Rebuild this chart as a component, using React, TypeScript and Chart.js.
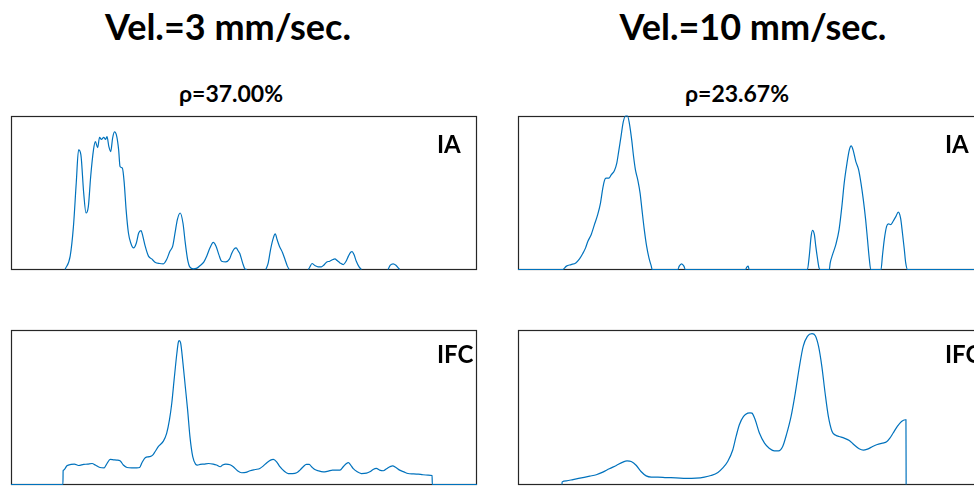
import React, { useEffect, useRef } from "react";
import { Chart, registerables } from "chart.js";

Chart.register(...registerables);

// ---------- Data (position 0–100 along the trace, intensity 0–100 % of panel) ----------
const posIA3: number[] = [
  11.6, 12.7, 13.4, 14.0, 14.5, 15.0, 15.6, 16.1, 16.6, 17.1, 17.7, 18.1, 18.6, 19.0, 19.4, 19.9,
  20.3, 20.6, 21.0, 21.4, 21.8, 22.2, 22.7, 23.1, 23.4, 23.9, 24.3, 24.7, 25.2, 25.7, 26.3, 26.9,
  27.4, 27.9, 28.3, 28.8, 29.5, 30.2, 30.9, 31.9, 32.7, 33.4, 34.1, 34.7, 35.2, 35.7, 36.3, 36.9,
  37.4, 37.9, 38.4, 39.1, 39.9, 40.6, 41.4, 42.0, 42.7, 43.4, 44.0, 44.6, 45.2, 46.1, 46.9, 47.4,
  47.9, 48.3, 48.8, 49.1, 49.7, 50.2, 50.6, 52.5, 54.7, 55.2, 55.7, 56.3, 56.7, 57.1, 57.6, 58.3,
  58.8, 59.3, 59.7, 62.0, 63.8, 64.1, 64.6, 65.2, 65.9, 66.6, 67.1, 67.7, 68.4, 69.1, 69.5, 70.0,
  70.6, 71.3, 71.9, 72.4, 72.9, 73.2, 73.6, 74.1, 74.7, 75.2, 78.0, 80.9, 81.4, 82.0, 82.6, 83.1,
  83.4,
];
const valIA3: (number | null)[] = [
  0, 8.7, 28.1, 56.3, 77.9, 74.7, 49.8, 36.8, 41.1, 60.6, 77.9, 83.3, 79.4, 86.1, 84.8, 86.1,
  84.8, 86.6, 80.1, 76.8, 85.5, 89.6, 86.6, 77.9, 67.1, 66.0, 56.3, 39.0, 23.8, 17.3, 14.1, 17.3,
  23.8, 25.3, 21.6, 15.2, 8.7, 6.9, 4.8, 3.9, 3.7, 6.5, 11.9, 15.2, 23.8, 32.5, 36.8, 30.3,
  17.3, 6.5, 1.5, 0.4, 0.9, 2.6, 5.0, 8.7, 14.1, 17.7, 15.2, 9.7, 5.4, 5.0, 6.9, 10.8,
  13.4, 14.1, 11.9, 10.4, 4.3, 0.4, 0, null, 0, 4.3, 13.0, 20.6, 23.2, 19.5, 15.2, 10.8,
  6.5, 2.2, 0, null, 0, 1.5, 3.9, 2.6, 1.7, 1.7, 2.8, 4.8, 5.4, 6.5, 6.9, 5.8,
  4.3, 3.2, 5.4, 8.7, 11.3, 11.7, 9.7, 5.4, 1.7, 0, null, 0, 2.8, 3.7, 2.8, 1.1,
  0,
];

const posIFC3: number[] = [
  0, 11.14, 11.19, 11.3, 12.0, 12.9, 13.6, 14.5, 15.6, 16.4, 17.4, 18.1, 19.1, 20.0, 20.6, 21.3,
  22.0, 22.7, 23.4, 24.1, 24.9, 25.9, 27.0, 27.6, 28.1, 28.8, 29.7, 30.4, 30.9, 31.6, 32.7, 33.4,
  34.0, 34.5, 35.0, 35.6, 35.9, 36.1, 36.4, 36.9, 37.4, 37.9, 38.4, 39.0, 39.6, 40.0, 40.6, 41.4,
  42.4, 43.4, 44.1, 44.9, 45.4, 46.1, 47.0, 47.7, 48.6, 49.5, 50.4, 51.3, 52.4, 53.4, 54.1, 54.9,
  55.7, 56.3, 57.0, 57.7, 58.6, 59.5, 60.4, 61.3, 62.0, 62.7, 63.4, 64.0, 64.5, 65.2, 65.9, 67.0,
  68.1, 69.0, 69.9, 70.6, 71.3, 72.0, 72.4, 72.9, 73.4, 74.3, 75.2, 76.3, 77.0, 77.7, 78.4, 79.1,
  79.9, 80.6, 81.3, 81.9, 82.6, 83.4, 84.3, 85.2, 86.3, 87.4, 88.4, 89.5, 90.36, 90.41, 100,
];
const valIFC3: number[] = [
  0, 0, 8.9, 9.3, 12.1, 13.0, 13.2, 12.3, 13.0, 13.2, 13.6, 12.6, 11.0, 10.8, 13.6, 16.2,
  16.0, 15.8, 15.4, 12.6, 11.0, 10.8, 10.8, 11.0, 14.1, 17.3, 18.0, 19.0, 21.2, 24.5, 28.1, 33.1,
  41.8, 52.6, 67.7, 85.1, 92.0, 93.1, 91.6, 78.6, 63.4, 48.3, 31.0, 18.0, 13.2, 12.6, 13.0, 13.2,
  13.6, 13.2, 12.6, 11.5, 12.6, 13.2, 12.8, 11.5, 8.9, 7.6, 7.8, 8.9, 9.7, 10.4, 11.9, 14.1,
  15.8, 16.2, 14.7, 11.5, 8.7, 7.1, 7.1, 7.6, 9.3, 11.5, 13.0, 13.0, 11.5, 9.7, 8.9, 8.2,
  8.7, 9.3, 9.3, 9.3, 11.5, 13.6, 14.1, 12.6, 10.4, 8.2, 7.1, 7.4, 8.2, 9.7, 10.4, 9.3,
  8.9, 10.2, 11.5, 12.1, 11.0, 9.3, 8.2, 7.1, 6.9, 6.7, 6.3, 6.1, 5.8, 0, 0,
];

const posIA10: number[] = [
  0, 9.6, 10.4, 11.4, 12.4, 13.2, 13.9, 14.5, 15.0, 15.7, 16.4, 17.1, 17.7, 18.2, 18.6, 18.9,
  19.5, 20.0, 20.7, 21.2, 21.6, 22.1, 22.6, 23.1, 23.5, 23.9, 24.4, 24.8, 25.2, 25.7, 26.2, 26.6,
  27.1, 27.6, 28.1, 28.6, 28.8, 34.3, 34.6, 35.1, 35.6, 35.9, 48.8, 49.1, 49.4, 49.6, 62.1, 62.5,
  62.9, 63.2, 63.6, 63.9, 64.3, 64.6, 64.9, 66.8, 67.0, 67.5, 68.2, 68.9, 69.5, 70.0, 70.6, 71.1,
  71.5, 71.9, 72.5, 73.1, 73.6, 74.1, 74.6, 75.0, 75.4, 75.7, 77.9, 78.2, 78.6, 79.1, 79.5, 80.0,
  80.5, 81.1, 81.6, 82.1, 82.5, 82.9, 83.2, 83.6, 100,
];
const valIA10: number[] = [
  0, 0, 2.2, 3.2, 4.3, 6.9, 10.4, 14.1, 18.4, 22.7, 29.2, 35.7, 43.3, 53.0, 58.4, 59.5,
  59.5, 61.7, 64.5, 69.3, 76.8, 86.6, 96.3, 100, 100, 95.2, 84.4, 73.6, 64.9, 58.4, 49.8, 39.0,
  26.0, 15.2, 7.6, 2.2, 0, 0, 2.2, 3.7, 2.2, 0, 0, 1.5, 2.2, 0, 0, 8.7,
  21.6, 25.5, 22.7, 15.2, 6.5, 1.1, 0, 0, 4.3, 9.7, 16.2, 26.0, 41.1, 56.3, 69.3, 77.9,
  80.5, 77.9, 70.3, 64.9, 56.3, 45.5, 32.5, 19.5, 6.5, 0, 0, 8.7, 19.5, 28.1, 29.7, 29.2,
  31.4, 34.6, 37.4, 33.5, 23.8, 13.0, 4.3, 0, 0,
];

const posIFC10: number[] = [
  9.43, 9.48, 10.4, 11.8, 13.6, 15.4, 16.8, 18.2, 19.6, 21.1, 22.5, 23.4, 24.3, 25.4, 26.4, 27.5,
  28.6, 30.0, 31.8, 33.9, 36.1, 38.2, 40.0, 41.4, 42.9, 43.9, 45.0, 46.1, 46.8, 47.5, 48.4, 49.3,
  49.8, 50.2, 50.9, 51.8, 52.9, 53.9, 55.0, 55.9, 56.8, 57.6, 58.6, 59.5, 60.4, 61.2, 62.1, 63.1,
  63.8, 64.5, 65.2, 65.9, 66.6, 67.4, 68.1, 68.9, 70.0, 71.1, 72.1, 73.2, 74.1, 75.0, 76.1, 77.1,
  78.2, 79.1, 79.8, 80.5, 81.4, 82.3, 83.1, 83.25, 83.29,
];
const valIFC10: number[] = [
  0, 1.7, 2.4, 3.2, 4.3, 5.4, 6.3, 8.0, 10.2, 12.3, 14.5, 15.3, 14.9, 12.3, 8.4, 5.6,
  4.8, 4.8, 4.5, 4.3, 3.9, 4.1, 4.8, 5.8, 7.8, 10.6, 14.9, 22.5, 31.1, 38.7, 44.1, 46.2,
  46.4, 46.2, 41.9, 33.3, 26.8, 23.5, 21.8, 21.8, 24.6, 32.2, 44.1, 59.2, 76.5, 89.4, 95.9, 97.6,
  96.3, 89.4, 76.5, 59.2, 44.1, 34.3, 32.0, 31.1, 30.0, 28.5, 25.7, 23.1, 22.2, 22.9, 24.6, 25.9,
  26.8, 27.6, 30.0, 33.3, 37.6, 40.8, 41.9, 41.9, 0,
];

const titles = ["Vel.=3 mm/sec.", "Vel.=10 mm/sec."];
const rhoLabels = ["ρ=37.00%", "ρ=23.67%"];
const panelLabels = ["IA", "IFC"];

// ---------- Styling ----------
const LINE = "#0072BD";
const FONT = "Lato, 'Open Sans', sans-serif";

const boxPlugin = {
  id: "panelBox",
  beforeDatasetsDraw(chart: any) {
    const { ctx, chartArea: a } = chart;
    const x0 = Math.round(a.left) + 0.5;
    const y0 = Math.round(a.top) + 0.5;
    const x1 = Math.round(a.right) - 0.5;
    const y1 = Math.floor(a.bottom) + 0.5;
    ctx.save();
    ctx.strokeStyle = "#262626";
    ctx.lineWidth = 1.2;
    ctx.strokeRect(x0, y0, x1 - x0, y1 - y0);
    ctx.restore();
  },
};

const PAD = 3;

function Panel(props: {
  xs: number[];
  ys: (number | null)[];
  left: number;
  top: number;
  width: number;
  height: number;
}) {
  const { xs, ys, left, top, width, height } = props;
  const ref = useRef<HTMLCanvasElement>(null);
  useEffect(() => {
    const chart = new Chart(ref.current as HTMLCanvasElement, {
      type: "line",
      data: {
        datasets: [
          {
            data: xs.map((x, i) => ({ x, y: ys[i] })) as any,
            borderColor: LINE,
            borderWidth: 1.2,
            pointRadius: 0,
            cubicInterpolationMode: "monotone",
            spanGaps: false,
            fill: false,
            clip: 2,
          },
        ],
      },
      options: {
        responsive: false,
        maintainAspectRatio: false,
        animation: false,
        events: [],
        layout: { padding: { left: PAD, right: PAD, top: PAD, bottom: PAD + 0.5 } },
        plugins: { legend: { display: false }, tooltip: { enabled: false }, title: { display: false } },
        scales: {
          x: { type: "linear", min: 0, max: 100, display: false },
          y: { type: "linear", min: 0, max: 100, display: false },
        },
      },
      plugins: [boxPlugin],
    });
    return () => chart.destroy();
  }, []);
  return (
    <canvas
      ref={ref}
      width={width + 2 * PAD}
      height={height + 2 * PAD}
      style={{ position: "absolute", left: left - PAD, top: top - PAD, width: width + 2 * PAD, height: height + 2 * PAD }}
    />
  );
}

function Text(props: { text: string; x: number; baseline: number; size: number; align: "center" | "left" }) {
  const { text, x, baseline, size, align } = props;
  const top = baseline - 0.887 * size;
  const style: React.CSSProperties = {
    position: "absolute",
    top,
    fontFamily: FONT,
    fontWeight: 700,
    fontSize: size,
    lineHeight: `${size}px`,
    whiteSpace: "nowrap",
    color: "#000",
  };
  if (align === "center") {
    style.left = x - 300;
    style.width = 600;
    style.textAlign = "center";
  } else {
    style.left = x;
  }
  return <div style={style}>{text}</div>;
}

export default function App() {
  const W = 466;
  return (
    <div
      style={{
        position: "fixed",
        left: 0,
        top: 0,
        width: 974,
        height: 486,
        overflow: "hidden",
        background: "#fff",
      }}
    >
      <Text text={titles[0]} x={228} baseline={40} size={36} align="center" />
      <Text text={titles[1]} x={753} baseline={40} size={36} align="center" />
      <Text text={rhoLabels[0]} x={231} baseline={102} size={23} align="center" />
      <Text text={rhoLabels[1]} x={737} baseline={102} size={23} align="center" />

      <Panel xs={posIA3} ys={valIA3} left={11} top={116} width={W} height={154} />
      <Panel xs={posIA10} ys={valIA10} left={518} top={116} width={W} height={154} />
      <Panel xs={posIFC3} ys={valIFC3} left={11} top={330} width={W} height={155} />
      <Panel xs={posIFC10} ys={valIFC10} left={518} top={330} width={W} height={155} />

      <Text text={panelLabels[0]} x={437} baseline={153} size={24} align="left" />
      <Text text={panelLabels[0]} x={945} baseline={153} size={24} align="left" />
      <Text text={panelLabels[1]} x={437} baseline={363} size={24} align="left" />
      <Text text={panelLabels[1]} x={945} baseline={363} size={24} align="left" />
    </div>
  );
}
